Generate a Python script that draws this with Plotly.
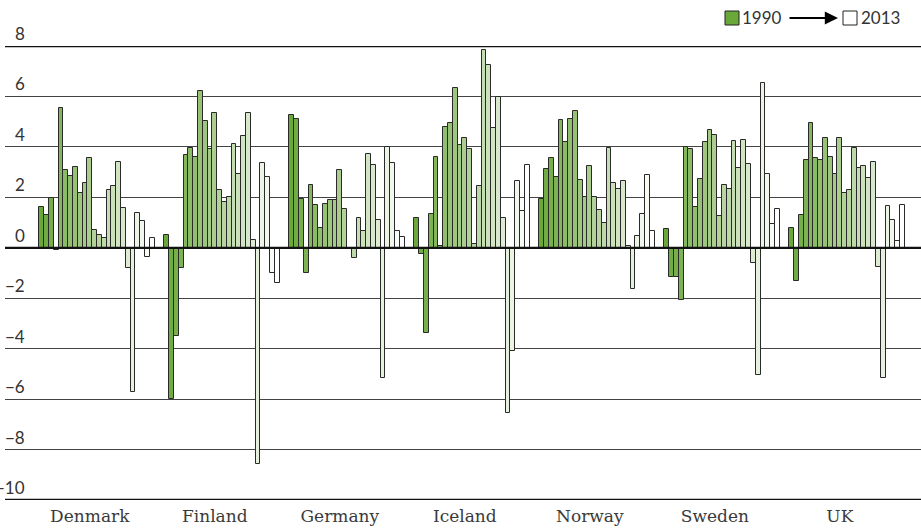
import plotly.graph_objects as go

countries = ["Denmark", "Finland", "Germany", "Iceland", "Norway", "Sweden", "UK"]
years = list(range(1990, 2014))

denmark = [1.62, 1.30, 1.99, -0.10, 5.54, 3.07, 2.86, 3.21, 2.16, 2.57, 3.54, 0.70,
           0.49, 0.37, 2.30, 2.46, 3.40, 1.59, -0.82, -5.70, 1.39, 1.06, -0.37, 0.40]
finland = [0.50, -6.00, -3.50, -0.82, 3.66, 3.96, 3.58, 6.23, 5.03, 3.93, 5.34, 2.28,
           1.81, 2.01, 4.13, 2.91, 4.42, 5.34, 0.29, -8.56, 3.36, 2.82, -1.01, -1.39]
germany = [5.26, 5.11, 1.93, -1.01, 2.49, 1.68, 0.78, 1.75, 1.88, 1.88, 3.07, 1.52,
           0.00, -0.40, 1.17, 0.68, 3.71, 3.27, 1.09, -5.15, 4.00, 3.35, 0.68, 0.42]
iceland = [1.17, -0.24, -3.39, 1.32, 3.60, 0.09, 4.79, 4.93, 6.33, 4.08, 4.34, 3.93,
           0.15, 2.44, 7.85, 7.26, 4.73, 5.99, 1.17, -6.57, -4.11, 2.66, 1.46, 3.27]
norway = [1.93, 3.13, 3.54, 2.81, 5.06, 4.20, 5.11, 5.42, 2.69, 2.03, 3.25, 2.00,
          1.50, 0.99, 3.97, 2.58, 2.32, 2.66, 0.07, -1.64, 0.48, 1.35, 2.89, 0.66]
sweden = [0.75, -1.17, -1.17, -2.07, 4.00, 3.93, 1.62, 2.72, 4.21, 4.68, 4.48, 1.26,
          2.49, 2.33, 4.24, 3.18, 4.29, 3.32, -0.61, -5.05, 6.54, 2.94, 0.94, 1.52]
uk = [0.78, -1.30, 1.30, 3.50, 4.95, 3.54, 3.50, 4.36, 3.59, 2.94, 4.36, 2.17,
      2.30, 3.96, 3.18, 3.25, 2.77, 3.42, -0.78, -5.18, 1.67, 1.11, 0.26, 1.68]

series = [denmark, finland, germany, iceland, norway, sweden, uk]
y_ticks = [8, 6, 4, 2, 0, -2, -4, -6, -8, -10]
y_tick_text = ["8", "6", "4", "2", "0", "\u22122", "\u22124", "\u22126", "\u22128", "\u221210"]

SLOTS = 26
start_rgb = (106, 168, 58)
n = len(years)


def year_color(i):
    t = i / (n - 1)
    r = round(start_rgb[0] + (255 - start_rgb[0]) * t)
    g = round(start_rgb[1] + (255 - start_rgb[1]) * t)
    b = round(start_rgb[2] + (255 - start_rgb[2]) * t)
    return f"rgb({r},{g},{b})"


xs, ys, cols, hov = [], [], [], []
for gi, (c, vals) in enumerate(zip(countries, series)):
    for i, v in enumerate(vals):
        xs.append(gi * SLOTS + i)
        ys.append(v)
        cols.append(year_color(i))
        hov.append(f"{c} {years[i]}")

fig = go.Figure()
fig.add_trace(go.Bar(
    x=xs, y=ys, width=1.0,
    marker=dict(color=cols, line=dict(color="#2a2a2a", width=1)),
    hovertext=hov, hoverinfo="text+y", showlegend=False,
))

W, H = 921, 531
ML, MR, MT, MB = 5, 0, 46, 31
PW, PH = W - ML - MR, H - MT - MB


def xp(px):
    return (px - ML) / PW


def yp(py):
    return (H - MB - py) / PH


x0 = (ML - 41.7) / 4.808
x1 = (W - MR - 41.7) / 4.808

TICKFONT = dict(family="Lato", size=17, color="#333333")

annotations = []
for v, t in zip(y_ticks, y_tick_text):
    annotations.append(dict(
        x=xp(27), y=v, xref="paper", yref="y", text=t, showarrow=False,
        xanchor="right", yanchor="bottom", yshift=0,
        font=TICKFONT,
    ))

# legend
annotations += [
    dict(x=xp(740), y=yp(18), xref="paper", yref="paper", text="1990", showarrow=False,
         xanchor="left", yanchor="middle", font=TICKFONT),
    dict(x=xp(859), y=yp(18), xref="paper", yref="paper", text="2013", showarrow=False,
         xanchor="left", yanchor="middle", font=TICKFONT),
    dict(x=xp(838), y=yp(18), xref="paper", yref="paper", ax=-50, ay=0,
         axref="pixel", ayref="pixel", text="", showarrow=True, arrowhead=2,
         arrowsize=1.2, arrowwidth=2.2, arrowcolor="#000000"),
]

shapes = [
    dict(type="rect", xref="paper", yref="paper", x0=xp(725), x1=xp(739), y0=yp(25), y1=yp(11),
         fillcolor=year_color(0), line=dict(color="#222222", width=1)),
    dict(type="rect", xref="paper", yref="paper", x0=xp(843), x1=xp(857), y0=yp(25), y1=yp(11),
         fillcolor="#ffffff", line=dict(color="#222222", width=1)),
    dict(type="line", xref="paper", yref="y", x0=0, x1=1, y0=8, y1=8,
         line=dict(color="#111111", width=2.5)),
    dict(type="line", xref="paper", yref="y", x0=0, x1=1, y0=-10, y1=-10,
         line=dict(color="#111111", width=2.5)),
    dict(type="line", xref="paper", yref="y", x0=0, x1=1, y0=0, y1=0,
         line=dict(color="#111111", width=2.2), layer="above"),
]

fig.update_layout(
    width=W, height=H,
    margin=dict(l=ML, r=MR, t=MT, b=MB, pad=0, autoexpand=False),
    paper_bgcolor="white", plot_bgcolor="white",
    bargap=0,
    xaxis=dict(range=[x0, x1], tickvals=[gi * SLOTS + 10 for gi in range(len(countries))],
               ticktext=countries, showgrid=False, zeroline=False, ticks="", showline=False,
               automargin=False, ticklabelstandoff=4,
               tickfont=dict(family="DejaVu Serif", size=17, color="#3a3a3a"), fixedrange=True),
    yaxis=dict(range=[-10, 8], tickvals=[6, 4, 2, -2, -4, -6, -8], showticklabels=False,
               showgrid=True, gridcolor="#444444", gridwidth=1, zeroline=False,
               automargin=False, showline=False, fixedrange=True),
    annotations=annotations,
    shapes=shapes,
)

fig.write_html("out.html", config={"displayModeBar": False},
               post_script="document.body.style.margin='0';")
